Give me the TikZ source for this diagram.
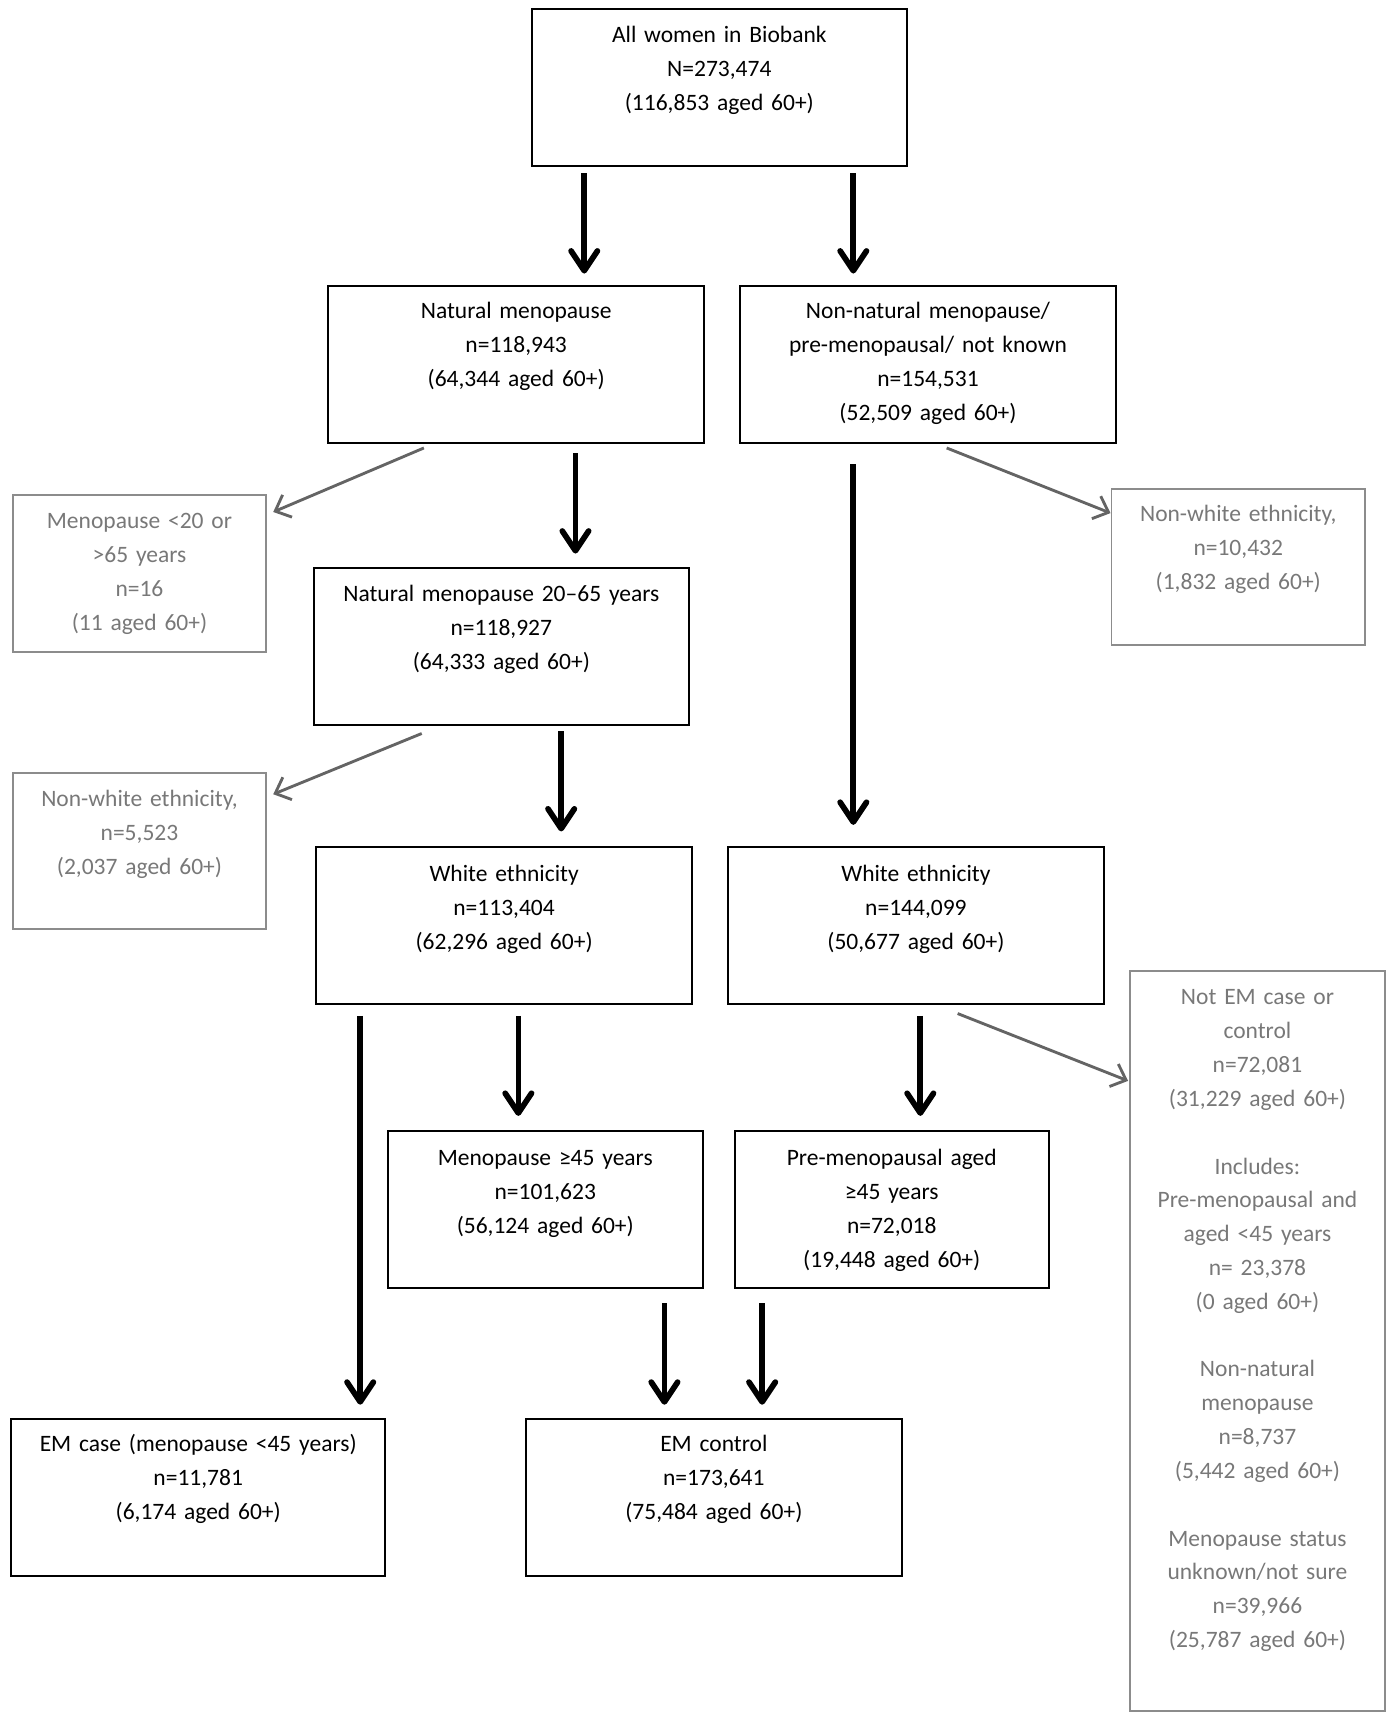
\documentclass[tikz,border=0pt]{standalone}
\usepackage{fontspec}
\setmainfont{Carlito}
\usetikzlibrary{arrows.meta,calc}
\definecolor{gtext}{RGB}{120,120,120}
\definecolor{gline}{RGB}{140,140,140}
\definecolor{garrow}{RGB}{100,100,100}
\begin{document}
\begin{tikzpicture}[x=0.5pt,y=-0.5pt,
  every node/.style={font=\fontsize{10.7}{15.5}\selectfont, inner sep=0pt, anchor=base, align=center},
  bbox/.style={draw=black, line width=0.9pt},
  gbox/.style={draw=gline, line width=0.8pt, text=gtext},
  barrow/.style={line width=2.6pt, -{Straight Barb[length=9pt,width=12pt,line cap=round,line join=round]}},
  garr/.style={draw=garrow, line width=1.3pt, -{Straight Barb[length=6pt,width=11pt]}}]
\useasboundingbox (0,0) rectangle (1270,1568);

\node[bbox, minimum width=171pt, text width=160pt, text height=15.5pt, text depth=56pt] (top) at (655,39)
  {All women in Biobank\\N=273,474\\(116,853 aged 60+)};
\node[bbox, minimum width=171pt, text width=160pt, text height=15pt, text depth=56.5pt] (nat) at (470,290)
  {Natural menopause\\n=118,943\\(64,344 aged 60+)};
\node[bbox, minimum width=171pt, text width=160pt, text height=15pt, text depth=56.5pt] (non) at (845,290)
  {Non-natural menopause/\\pre-menopausal/ not known\\n=154,531\\(52,509 aged 60+)};
\node[gbox, minimum width=115pt, text width=108pt, text height=15pt, text depth=56.5pt] (m20) at (127,481)
  {Menopause <20 or\\>65 years\\n=16\\(11 aged 60+)};
\node[bbox, minimum width=170.5pt, text width=160pt, text height=15.5pt, text depth=56pt] (n2065) at (456.5,548)
  {Natural menopause 20–65 years\\n=118,927\\(64,333 aged 60+)};
\node[gbox, minimum width=115.5pt, text width=108pt, text height=15pt, text depth=56pt] (nwR) at (1127.5,475)
  {Non-white ethnicity,\\n=10,432\\(1,832 aged 60+)};
\node[gbox, minimum width=115pt, text width=108pt, text height=15pt, text depth=56pt] (nwL) at (127,734)
  {Non-white ethnicity,\\n=5,523\\(2,037 aged 60+)};
\node[bbox, minimum width=171pt, text width=160pt, text height=16pt, text depth=55.5pt] (whL) at (459,803)
  {White ethnicity\\n=113,404\\(62,296 aged 60+)};
\node[bbox, minimum width=171pt, text width=160pt, text height=16pt, text depth=55.5pt] (whR) at (834,803)
  {White ethnicity\\n=144,099\\(50,677 aged 60+)};
\node[gbox, font=\fontsize{10.7}{15.4}\selectfont, minimum width=116pt, text width=108pt, text height=15.5pt, text depth=321.5pt] (notem) at (1145,915)
  {Not EM case or\\control\\n=72,081\\(31,229 aged 60+)\\[15.4pt]Includes:\\Pre-menopausal and\\aged <45 years\\n= 23,378\\(0 aged 60+)\\[15.4pt]Non-natural\\menopause\\n=8,737\\(5,442 aged 60+)\\[15.4pt]Menopause status\\unknown/not sure\\n=39,966\\(25,787 aged 60+)};
\node[bbox, minimum width=143.5pt, text width=136pt, text height=15.5pt, text depth=56pt] (m45) at (496.5,1061)
  {Menopause ≥45 years\\n=101,623\\(56,124 aged 60+)};
\node[bbox, minimum width=143pt, text width=136pt, text height=15.5pt, text depth=56pt] (pre) at (812,1061)
  {Pre-menopausal aged\\≥45 years\\n=72,018\\(19,448 aged 60+)};
\node[bbox, minimum width=170.5pt, text width=160pt, text height=15pt, text depth=56.5pt] (emcase) at (180.5,1322)
  {EM case (menopause <45 years)\\n=11,781\\(6,174 aged 60+)};
\node[bbox, minimum width=171pt, text width=160pt, text height=15pt, text depth=56.5pt] (emctrl) at (650,1322)
  {EM control\\n=173,641\\(75,484 aged 60+)};

% black arrows
\draw[barrow] ($(top.south)+(-123,6)$) -- ($(nat.north)+(62,-10)$);
\draw[barrow] ($(top.south)+(122,6)$) -- ($(non.north)+(-68,-10)$);
\draw[barrow] ($(nat.south)+(54,9)$) -- ($(n2065.north)+(67.5,-12)$);
\draw[barrow] ($(n2065.south)+(54.5,5)$) -- ($(whL.north)+(52,-13)$);
\draw[barrow] ($(non.south)+(-68,19)$) -- ($(whR.north)+(-57,-19)$);
\draw[barrow] ($(whL.south)+(-131,10)$) -- ($(emcase.north)+(147.5,-12)$);
\draw[barrow] ($(whL.south)+(13,10)$) -- ($(m45.north)+(-24.5,-13)$);
\draw[barrow] ($(whR.south)+(4,10)$) -- ($(pre.north)+(26,-13)$);
\draw[barrow] ($(m45.south)+(108.5,13)$) -- ($(emctrl.north)+(-45,-12)$);
\draw[barrow] ($(pre.south)+(-118,13)$) -- ($(emctrl.north)+(44,-12)$);

% gray arrows
\draw[garr] ($(nat.south)+(-84,4)$) -- ($(m20.north east)+(6,16)$);
\draw[garr] ($(non.south)+(17,4)$) -- ($(nwR.north west)+(0,23)$);
\draw[garr] ($(n2065.south)+(-72.5,7)$) -- ($(nwL.north east)+(6,20)$);
\draw[garr] ($(whR.south)+(38,8)$) -- ($(notem.north west)+(-1,101)$);
\end{tikzpicture}
\end{document}
